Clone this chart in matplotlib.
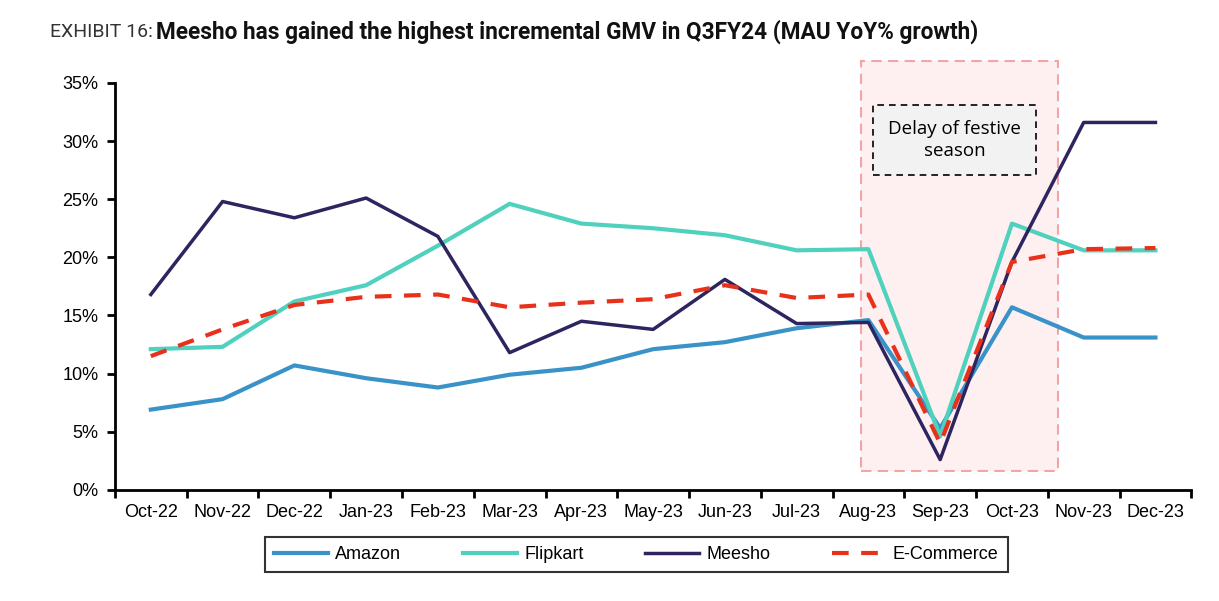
import matplotlib.pyplot as plt
import matplotlib.patches as mpatches
import numpy as np

# Data
months = ['Oct-22', 'Nov-22', 'Dec-22', 'Jan-23', 'Feb-23', 'Mar-23', 'Apr-23', 'May-23',
          'Jun-23', 'Jul-23', 'Aug-23', 'Sep-23', 'Oct-23', 'Nov-23', 'Dec-23']
amazon = [6.9, 7.8, 10.7, 9.6, 8.8, 9.9, 10.5, 12.1, 12.7, 13.9, 14.6, 5.3, 15.7, 13.1, 13.1]
flipkart = [12.1, 12.3, 16.2, 17.6, 21.0, 24.6, 22.9, 22.5, 21.9, 20.6, 20.7, 4.6, 22.9, 20.6, 20.6]
meesho = [16.8, 24.8, 23.4, 25.1, 21.8, 11.8, 14.5, 13.8, 18.1, 14.3, 14.4, 2.6, 19.6, 31.6, 31.6]
ecommerce = [11.5, 13.8, 15.9, 16.6, 16.8, 15.7, 16.1, 16.4, 17.6, 16.5, 16.8, 4.0, 19.6, 20.7, 20.8]

plt.rcParams['font.family'] = ['Liberation Sans', 'DejaVu Sans']

fig = plt.figure(figsize=(12.19, 6.01), dpi=100)
ax = fig.add_axes([0.0943, 0.185, 0.883, 0.677])

x = np.arange(len(months))

# Shaded festive-season window
shade = mpatches.Rectangle((9.9, 1.6), 2.74, 35.3, facecolor='#FEF0F0', edgecolor='#F4A3A6',
                           linestyle=(0, (5, 3)), linewidth=1.5, clip_on=False, zorder=0)
ax.add_patch(shade)

ax.plot(x, amazon, color='#3A93C8', linewidth=3, label='Amazon', zorder=3)
ax.plot(x, flipkart, color='#4FD1BE', linewidth=3, label='Flipkart', zorder=3)
ax.plot(x, meesho, color='#2E245F', linewidth=2.5, label='Meesho', zorder=4)
ax.plot(x, ecommerce, color='#E8311A', linewidth=3, linestyle=(0, (4, 3)), label='E-Commerce', zorder=5)

ax.text(11.2, 30.1, 'Delay of festive\nseason', ha='center', va='center', fontsize=13.5,
        family=['Open Sans', 'DejaVu Sans'], linespacing=1.3,
        bbox=dict(boxstyle='square,pad=0.8', facecolor='#F2F2F2', edgecolor='black',
                  linestyle=(0, (4, 3)), linewidth=1.2), zorder=6)

# Axes styling
ax.set_xlim(-0.5, 14.5)
ax.set_ylim(0, 35)
ax.set_yticks(np.arange(0, 36, 5))
ax.set_yticklabels([f'{v}%' for v in range(0, 36, 5)], fontsize=13)
ax.set_xticks(np.arange(-0.5, 15, 1))
ax.set_xticklabels([])
ax.set_xticks(x, minor=True)
ax.set_xticklabels(months, minor=True, fontsize=13)
ax.tick_params(axis='x', which='major', direction='out', length=6, width=2)
ax.tick_params(axis='x', which='minor', length=0, pad=10)
ax.tick_params(axis='y', direction='out', length=6, width=2, pad=6)

ax.spines['top'].set_visible(False)
ax.spines['right'].set_visible(False)
ax.spines['left'].set_linewidth(2)
ax.spines['bottom'].set_linewidth(2)

leg = fig.legend(loc='center', bbox_to_anchor=(0.522, 0.077), ncol=4, fontsize=13,
                 frameon=True, fancybox=False, edgecolor='black', handlelength=3.0,
                 handletextpad=0.4, columnspacing=3.4, borderpad=0.5, borderaxespad=0)
leg.get_frame().set_linewidth(1.5)

# Title
fig.text(0.125, 0.947, 'EXHIBIT 16:', fontsize=14, color='#333333', va='center', ha='right',
         family=['Roboto', 'DejaVu Sans'])
fig.text(0.128, 0.947, 'Meesho has gained the highest incremental GMV in Q3FY24 (MAU YoY% growth)',
         fontsize=16.3, fontweight='bold', va='center', color='#111111',
         family=['Roboto', 'DejaVu Sans'])

plt.savefig('out.png', dpi=100, facecolor='white')
